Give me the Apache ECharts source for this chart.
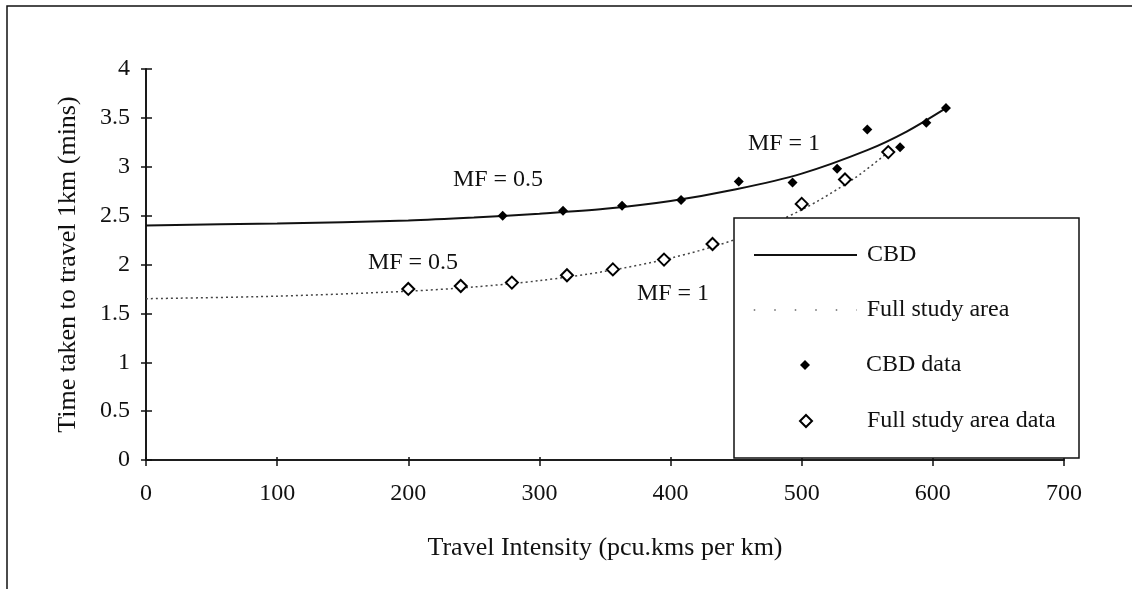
<!DOCTYPE html>
<html>
<head>
<meta charset="utf-8">
<style>html,body{margin:0;padding:0;background:#fff;}#chart{width:1132px;height:589px;}</style>
<script src="https://cdn.jsdelivr.net/npm/echarts@6/dist/echarts.min.js"></script>
</head>
<body>
<div id="chart"></div>
<script>
// Observed data points
const cbdX = [272, 318, 363, 408, 452, 493, 527, 550, 575, 595, 610];
const cbdY = [2.50, 2.55, 2.60, 2.66, 2.85, 2.84, 2.98, 3.38, 3.20, 3.45, 3.60];
const fullX = [200, 240, 279, 321, 356, 395, 432, 500, 533, 566];
const fullY = [1.75, 1.78, 1.815, 1.89, 1.95, 2.05, 2.21, 2.62, 2.87, 3.15];
// Fitted curves
const cbdFitX = [0, 100, 200, 250, 300, 350, 400, 450, 500, 550, 580, 610];
const cbdFitY = [2.40, 2.42, 2.45, 2.48, 2.52, 2.57, 2.65, 2.77, 2.93, 3.17, 3.36, 3.60];
const fullFitX = [0, 100, 200, 250, 300, 350, 400, 450, 500, 540, 566];
const fullFitY = [1.65, 1.676, 1.727, 1.77, 1.835, 1.93, 2.065, 2.26, 2.56, 2.88, 3.15];
// Axis settings
const xMin = 0, xMax = 700, xStep = 100;
const yMin = 0, yMax = 4, yStep = 0.5;
const xTitle = 'Travel Intensity (pcu.kms per km)';
const yTitle = 'Time taken to travel 1km (mins)';
const seriesNames = ['CBD', 'Full study area', 'CBD data', 'Full study area data'];
const annotations = ['MF = 0.5', 'MF = 1', 'MF = 0.5', 'MF = 1'];

const FONT = "'Liberation Serif', 'Times New Roman', serif";
const zip = (xs, ys) => xs.map((x, i) => [x, ys[i]]);

const chart = echarts.init(document.getElementById('chart'), null, {renderer: 'canvas'});

const axisLine = {show: true, lineStyle: {color: '#111', width: 1.6}};
const baseX = {type: 'value', min: xMin, max: xMax, interval: xStep, splitLine: {show: false}, axisLine: axisLine};
const baseY = {type: 'value', min: yMin, max: yMax, interval: yStep, splitLine: {show: false}, axisLine: axisLine};

const legendText = {fontFamily: FONT, fontSize: 24, color: '#111'};
const legendCommon = {orient: 'vertical', z: 200, selectedMode: false, padding: 0};

chart.setOption({
  animation: false,
  backgroundColor: '#fff',
  grid: {left: 146, right: 68, top: 69, bottom: 129, containLabel: false},
  xAxis: [
    Object.assign({}, baseX, {
      position: 'bottom',
      axisTick: {show: true, inside: false, length: 6, lineStyle: {color: '#111', width: 1.5}},
      axisLabel: {show: true, margin: 22, fontFamily: FONT, fontSize: 24, color: '#111'},
      name: xTitle, nameLocation: 'middle', nameGap: 75,
      nameTextStyle: {fontFamily: FONT, fontSize: 26, color: '#111'}
    }),
    Object.assign({}, baseX, {
      position: 'bottom',
      axisTick: {show: true, inside: true, length: 3, lineStyle: {color: '#111', width: 1.5}},
      axisLabel: {show: false}
    })
  ],
  yAxis: [
    Object.assign({}, baseY, {
      position: 'left',
      axisTick: {show: true, inside: false, length: 5, lineStyle: {color: '#111', width: 1.5}},
      axisLabel: {show: true, margin: 16, fontFamily: FONT, fontSize: 24, color: '#111'},
      name: yTitle, nameLocation: 'middle', nameGap: 65, nameRotate: 90,
      nameTextStyle: {fontFamily: FONT, fontSize: 26, color: '#111'}
    }),
    Object.assign({}, baseY, {
      position: 'left',
      axisTick: {show: true, inside: true, length: 6, lineStyle: {color: '#111', width: 1.5}},
      axisLabel: {show: false}
    })
  ],
  legend: [
    Object.assign({}, legendCommon, {left: 753, top: 243, itemWidth: 103, itemHeight: 14,
      itemStyle: {opacity: 0}, textStyle: Object.assign({}, legendText, {padding: [0, 0, 0, 5]}),
      data: [seriesNames[0]]}),
    Object.assign({}, legendCommon, {left: 753, top: 298, itemWidth: 103, itemHeight: 14,
      itemStyle: {opacity: 0}, textStyle: Object.assign({}, legendText, {padding: [0, 0, 0, 5]}),
      lineStyle: {type: [1.5, 19], color: '#666', width: 1.5}, data: [seriesNames[1]]}),
    Object.assign({}, legendCommon, {left: 800, top: 353, itemWidth: 10, itemHeight: 10,
      textStyle: Object.assign({}, legendText, {padding: [0, 0, 0, 51]}), data: [seriesNames[2]]}),
    Object.assign({}, legendCommon, {left: 799, top: 409, itemWidth: 12, itemHeight: 12,
      textStyle: Object.assign({}, legendText, {padding: [0, 0, 0, 50]}), data: [seriesNames[3]]})
  ],
  graphic: [
    {type: 'rect', z: 100, shape: {x: 7, y: 6, width: 1300, height: 800},
      style: {fill: 'none', stroke: '#111', lineWidth: 1.5}, silent: true},
    {type: 'rect', z: 150, shape: {x: 734, y: 218, width: 345, height: 240},
      style: {fill: '#fff', stroke: '#111', lineWidth: 1.5}, silent: true},
    {type: 'text', z: 120, style: {text: annotations[0], x: 498, y: 180, align: 'center', verticalAlign: 'middle', font: '24px ' + FONT, fill: '#111'}},
    {type: 'text', z: 120, style: {text: annotations[1], x: 784, y: 144, align: 'center', verticalAlign: 'middle', font: '24px ' + FONT, fill: '#111'}},
    {type: 'text', z: 120, style: {text: annotations[2], x: 413, y: 263, align: 'center', verticalAlign: 'middle', font: '24px ' + FONT, fill: '#111'}},
    {type: 'text', z: 120, style: {text: annotations[3], x: 673, y: 294, align: 'center', verticalAlign: 'middle', font: '24px ' + FONT, fill: '#111'}}
  ],
  series: [
    {name: seriesNames[0], type: 'line', data: zip(cbdFitX, cbdFitY), smooth: 0.3, symbol: 'none',
      lineStyle: {color: '#111', width: 2}, itemStyle: {color: '#111'}, z: 3},
    {name: seriesNames[1], type: 'line', data: zip(fullFitX, fullFitY), smooth: 0.3, symbol: 'none',
      lineStyle: {color: '#444', width: 1.5, type: [2, 3]}, itemStyle: {color: '#444'}, z: 3},
    {name: seriesNames[2], type: 'scatter', data: zip(cbdX, cbdY), symbol: 'diamond', symbolSize: 10,
      itemStyle: {color: '#000', opacity: 1}, z: 5},
    {name: seriesNames[3], type: 'scatter', data: zip(fullX, fullY), symbol: 'diamond', symbolSize: 12,
      itemStyle: {color: '#fff', borderColor: '#000', borderWidth: 2, opacity: 1}, z: 5}
  ]
});
</script>
</body>
</html>
